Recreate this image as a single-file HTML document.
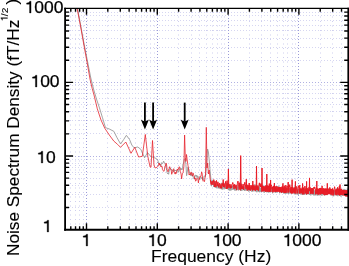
<!DOCTYPE html>
<html><head><meta charset="utf-8"><style>
html,body{margin:0;padding:0;background:#fff;}
body{width:349px;height:266px;position:relative;overflow:hidden;font-family:"Liberation Sans",sans-serif;color:#000;-webkit-text-stroke:0.25px #000;}
.t{position:absolute;font-size:16.5px;line-height:1;white-space:nowrap;will-change:transform;}
.c{transform:translateX(-50%) scaleX(1.06);}
.yt{position:absolute;font-size:16px;line-height:1;white-space:nowrap;will-change:transform;transform-origin:0 0;transform:rotate(-90deg) scaleX(1.076);}
.one{position:relative;color:transparent;-webkit-text-stroke:0;}
.one svg{position:absolute;left:0;top:0;width:0.556em;height:1.117em;overflow:visible;fill:#000;stroke:#000;stroke-width:20;}
sup{font-size:9.5px;vertical-align:0;position:relative;top:-11.5px;margin-left:-2px;}
.rp{font-size:17px;margin-left:2.6px;position:relative;top:-0.9px;}
</style></head><body>
<svg width="349" height="266" viewBox="0 0 349 266" style="position:absolute;left:0;top:0">
<defs><clipPath id="c"><rect x="65.1" y="8.35" width="283.1" height="221.4"/></clipPath></defs>
<path d="M70.5 12V228.8M75.5 12V228.8M79.5 12V228.8M83.5 12V228.8M107.5 12V228.8M120.5 12V228.8M129.5 12V228.8M135.5 12V228.8M141.5 12V228.8M146.5 12V228.8M150.5 12V228.8M154.5 12V228.8M178.5 12V228.8M191.5 12V228.8M199.5 12V228.8M206.5 12V228.8M212.5 12V228.8M217.5 12V228.8M221.5 12V228.8M224.5 12V228.8M249.5 12V228.8M261.5 12V228.8M270.5 12V228.8M277.5 12V228.8M283.5 12V228.8M287.5 12V228.8M292.5 12V228.8M295.5 12V228.8M320.5 12V228.8M332.5 12V228.8M341.5 12V228.8" stroke="#cfcfee" stroke-width="1" stroke-dasharray="1 3.5" fill="none"/>
<path d="M69 207.5H347.2M69 194.5H347.2M69 185.5H347.2M69 178.5H347.2M69 172.5H347.2M69 167.5H347.2M69 163.5H347.2M69 159.5H347.2M69 133.5H347.2M69 120.5H347.2M69 111.5H347.2M69 104.5H347.2M69 98.5H347.2M69 93.5H347.2M69 89.5H347.2M69 85.5H347.2M69 60.5H347.2M69 47.5H347.2M69 38.5H347.2M69 30.5H347.2M69 25.5H347.2M69 20.5H347.2M69 15.5H347.2M69 12.5H347.2" stroke="#d6d6f1" stroke-width="1" stroke-dasharray="1 2" fill="none"/>
<path d="M69 156.5H347.2M69 82.5H347.2" stroke="#b0b0e2" stroke-width="1" stroke-dasharray="1 2" fill="none"/>
<path d="M86.5 12V228.8M157.5 12V228.8M228.5 12V228.8M298.5 12V228.8" stroke="#9a9ad8" stroke-width="1" stroke-dasharray="1 2" fill="none"/>
<g clip-path="url(#c)">
<path d="M77.60 8.80 L84.30 45.00 L90.80 78.00 L93.80 90.00 L96.80 100.00 L99.50 108.00 L102.50 117.80 L105.50 127.60 L109.30 129.00 L113.80 131.30 L116.80 137.30 L120.60 144.00 L123.60 139.60 L126.40 135.30 L129.60 139.60 L131.80 145.00 L134.00 147.80 L137.80 147.00 L140.80 149.30 L144.60 157.80 L147.50 152.50 L150.60 156.30 L153.40 157.40 L156.30 158.50 L156.86 159.41 L157.42 160.16 L157.98 160.48 L158.54 163.68 L159.10 163.60 L159.55 162.92 L160.00 165.20 L160.50 164.78 L161.00 165.54 L161.50 162.67 L162.00 163.50 L162.53 163.31 L163.05 163.15 L163.57 161.07 L164.10 162.10 L164.60 162.60 L165.10 164.44 L165.60 164.70 L166.10 167.31 L166.60 170.20 L167.10 172.68 L167.60 173.80 L168.10 173.02 L168.60 174.30 L169.13 171.48 L169.67 169.07 L170.20 168.20 L170.65 168.54 L171.10 170.12 L171.55 169.45 L172.00 169.50 L172.50 170.82 L173.00 170.15 L173.50 171.74 L174.00 171.50 L174.50 169.93 L175.00 170.12 L175.50 170.90 L176.00 170.00 L176.57 171.25 L177.15 170.92 L177.73 170.49 L178.30 172.30 L178.80 170.58 L179.30 169.38 L179.80 168.57 L180.30 168.20 L180.87 169.73 L181.43 168.50 L182.00 170.00 L182.50 167.96 L183.00 163.60 L183.53 163.49 L184.05 159.76 L184.57 159.49 L185.10 158.60 L185.90 164.30 L186.60 175.70 L188.00 167.10 L188.47 169.00 L188.93 169.04 L189.40 172.90 L189.93 173.12 L190.45 175.60 L190.97 172.90 L191.50 175.00 L192.05 176.12 L192.60 174.92 L193.15 177.49 L193.70 177.90 L194.27 179.15 L194.85 176.00 L195.43 174.86 L196.00 176.50 L196.54 175.23 L197.08 177.50 L197.62 175.81 L198.16 176.50 L198.70 178.60 L199.27 178.19 L199.85 179.50 L200.43 177.08 L201.00 177.00 L201.50 177.34 L202.00 179.06 L202.50 177.60 L203.00 180.00 L203.58 178.90 L204.16 175.83 L204.74 176.18 L205.32 176.18 L205.90 172.90 L206.80 160.00 L207.60 149.00 L208.40 152.00 L209.20 160.00 L210.00 170.00 L211.00 180.00 L211.50 186.18 L212.28 180.19 L213.05 182.66 L213.74 186.90 L214.51 180.75 L215.26 187.74 L215.98 184.46 L216.78 188.26 L217.68 184.18 L218.39 188.37 L219.09 184.90 L219.89 188.66 L220.67 184.97 L221.35 189.31 L221.97 182.73 L222.71 189.55 L223.39 185.20 L224.19 189.30 L224.78 184.50 L225.58 188.90 L226.39 184.99 L226.99 183.06 L227.55 184.68 L228.37 190.15 L229.05 184.46 L229.69 190.56 L230.27 186.22 L230.86 190.57 L231.44 186.26 L232.01 189.94 L232.60 185.76 L233.24 189.66 L233.96 184.99 L234.58 190.40 L235.25 186.29 L235.86 190.64 L236.49 185.30 L237.15 189.93 L237.85 186.46 L238.36 190.44 L238.90 185.97 L239.49 184.05 L240.16 186.83 L240.69 190.82 L241.27 183.59 L241.85 190.90 L242.45 186.28 L243.12 189.88 L243.78 186.42 L244.39 190.91 L244.92 186.77 L245.58 190.50 L246.12 186.00 L246.69 190.41 L247.15 187.16 L247.77 190.93 L248.31 187.41 L248.83 191.64 L249.44 187.26 L250.00 190.23 L250.48 187.12 L251.08 190.39 L251.57 186.62 L252.00 191.93 L252.45 186.15 L252.89 190.37 L253.33 186.65 L253.87 191.43 L254.44 186.96 L254.90 184.29 L255.33 187.33 L255.85 191.48 L256.32 187.52 L256.85 192.25 L257.40 186.48 L257.81 191.33 L258.34 188.23 L258.85 192.07 L259.26 185.57 L259.71 192.24 L260.16 187.98 L260.64 191.62 L261.15 187.46 L261.61 191.99 L262.07 186.85 L262.82 184.86 L263.49 186.33 L264.16 192.79 L264.92 187.32 L265.52 185.47 L266.23 187.55 L266.81 192.35 L267.55 187.90 L268.32 192.60 L268.93 187.94 L269.57 192.29 L270.28 187.50 L271.11 192.08 L271.83 187.46 L272.58 193.26 L273.17 187.51 L273.77 186.87 L274.55 187.84 L275.28 192.91 L276.01 187.60 L276.81 192.63 L277.58 188.79 L278.18 186.09 L278.78 185.87 L279.56 193.23 L280.34 188.28 L281.12 193.07 L281.83 188.05 L282.63 192.84 L283.37 188.49 L283.99 193.78 L284.59 189.13 L285.43 193.64 L286.13 188.42 L286.84 193.70 L287.62 188.48 L288.35 194.06 L289.18 188.48 L289.88 193.60 L290.58 188.48 L291.17 193.55 L291.97 189.19 L292.69 187.09 L293.53 188.91 L294.13 194.10 L294.90 186.63 L295.54 194.39 L296.31 187.60 L297.01 194.54 L297.75 189.64 L298.36 194.73 L298.93 189.13 L299.68 193.89 L300.46 189.49 L301.29 194.59 L301.89 189.91 L302.59 195.03 L303.33 189.56 L304.00 194.83 L304.67 189.94 L305.23 194.39 L305.82 189.79 L306.64 194.99 L307.43 190.09 L308.16 194.38 L308.84 189.38 L309.43 194.92 L310.06 189.35 L310.81 195.42 L311.41 189.63 L312.18 194.68 L312.90 188.17 L313.55 195.30 L314.13 190.46 L314.81 195.44 L315.40 189.80 L316.12 195.35 L316.88 189.90 L317.66 195.61 L318.30 190.08 L319.08 195.46 L319.87 190.08 L320.44 195.20 L321.26 189.72 L321.88 195.78 L322.49 190.79 L323.22 194.85 L323.94 189.91 L324.57 195.44 L325.30 190.36 L325.90 195.08 L326.46 190.43 L327.26 195.11 L327.88 190.68 L328.52 188.87 L329.14 188.18 L329.76 188.52 L330.52 191.04 L331.17 195.68 L331.76 189.97 L332.53 188.93 L333.12 190.82 L333.70 196.27 L334.40 190.51 L334.97 195.26 L335.53 190.57 L336.33 195.32 L336.98 187.99 L337.81 196.20 L338.60 190.34 L339.30 195.72 L340.09 190.65 L340.93 196.60 L341.71 191.42 L342.52 195.98 L343.19 191.05 L344.01 188.95 L344.63 191.37 L345.21 189.54 L345.88 191.92 L346.69 196.34 L347.30 188.68 L348.12 196.79 L348.78 191.07" stroke="#9a9a9a" stroke-width="0.9" fill="none" stroke-linejoin="round"/>
<path d="M77.20 8.80 L80.50 26.00 L83.90 45.00 L87.20 63.00 L90.20 80.00 L92.20 88.50 L94.00 95.00 L97.30 108.80 L101.00 120.00 L104.80 128.30 L109.30 135.00 L113.80 141.10 L117.60 144.40 L120.50 147.30 L125.80 142.00 L131.00 153.30 L134.80 147.30 L138.60 157.00 L142.30 156.30 L145.30 134.50 L147.80 156.30 L150.10 167.00 L151.00 167.30 L152.50 140.50 L154.00 165.30 L155.10 168.00 L157.40 167.00 L157.82 166.44 L158.25 165.87 L158.68 165.06 L159.10 163.00 L159.55 165.14 L160.00 164.10 L160.50 165.66 L161.00 167.02 L161.50 166.20 L162.00 166.25 L162.50 169.70 L163.05 170.38 L163.60 171.30 L164.10 171.03 L164.60 168.10 L165.10 165.70 L165.60 165.84 L166.10 163.10 L166.60 165.01 L167.10 169.70 L167.60 170.64 L168.10 171.80 L168.63 169.19 L169.17 168.56 L169.70 166.70 L170.20 168.22 L170.70 169.20 L171.20 170.00 L171.70 174.30 L172.20 172.28 L172.70 172.30 L173.20 169.71 L173.70 168.70 L174.20 172.25 L174.70 172.80 L175.07 174.09 L175.43 172.24 L175.80 173.80 L176.30 173.37 L176.80 170.80 L177.30 168.97 L177.80 170.16 L178.30 169.20 L178.80 167.52 L179.30 166.74 L179.80 168.20 L180.30 171.84 L180.80 172.80 L181.20 174.80 L181.60 178.90 L182.10 175.08 L182.60 173.30 L183.03 172.67 L183.47 169.91 L183.90 166.20 L184.60 135.00 L185.30 157.50 L185.90 161.40 L186.50 154.50 L187.20 160.00 L188.00 165.70 L188.35 167.53 L188.70 171.40 L189.10 174.84 L189.50 173.99 L189.90 175.00 L190.40 174.41 L190.90 172.10 L191.40 172.12 L191.90 175.00 L192.45 176.09 L193.00 172.90 L193.55 175.23 L194.10 175.70 L194.60 179.07 L195.10 177.90 L195.60 181.21 L196.10 180.70 L196.50 178.79 L196.90 178.16 L197.30 177.90 L197.85 178.78 L198.40 182.90 L198.90 179.38 L199.40 179.30 L199.90 176.22 L200.40 176.40 L200.90 176.40 L201.25 174.60 L201.60 171.80 L202.15 173.49 L202.70 180.00 L203.20 181.21 L203.70 180.70 L204.10 180.36 L204.50 181.60 L205.00 177.88 L205.50 176.00 L206.30 127.30 L207.00 168.00 L207.70 163.00 L208.40 174.00 L209.20 170.00 L210.00 178.00 L210.40 180.20 L211.20 184.54" stroke="#e6232d" stroke-width="0.8" fill="none" stroke-linejoin="round"/>
<path d="M210.40 180.20 L211.20 184.54 L212.13 180.98 L212.95 185.00 L213.78 179.58 L214.43 187.00 L215.07 181.15 L215.89 187.09 L216.50 180.45 L217.19 186.14 L217.93 181.85 L218.72 187.33 L219.45 183.22 L220.34 188.29 L221.02 183.56 L221.62 188.35 L222.45 183.46 L222.80 185.71 L223.20 179.50 L223.60 185.71 L223.27 187.08 L224.10 183.54 L224.78 187.47 L225.56 181.45 L226.39 189.01 L227.01 180.61 L227.61 188.69 L228.21 183.38 L228.00 186.25 L228.40 169.00 L228.80 186.25 L228.93 187.89 L229.53 184.42 L230.28 188.37 L230.87 184.27 L231.57 188.05 L232.15 184.64 L232.75 182.47 L233.42 184.76 L234.03 188.95 L234.67 184.18 L235.22 188.42 L235.93 184.93 L236.62 190.13 L237.35 183.75 L237.95 181.08 L238.49 184.19 L239.18 189.62 L239.70 182.70 L240.32 190.22 L240.30 187.15 L240.70 155.60 L241.10 187.15 L240.86 183.93 L241.34 189.09 L241.82 185.50 L242.42 188.88 L243.09 183.96 L243.71 189.88 L244.18 185.98 L244.79 182.24 L245.35 184.62 L246.02 188.99 L246.00 187.51 L246.30 179.20 L246.60 187.51 L246.63 184.37 L247.22 190.52 L247.74 184.88 L248.36 189.83 L248.98 185.19 L248.90 187.70 L249.20 183.00 L249.50 187.70 L249.49 190.23 L249.93 185.12 L250.54 190.59 L251.11 185.32 L251.70 189.36 L252.12 185.35 L252.57 190.65 L252.50 187.93 L252.80 181.00 L253.10 187.93 L253.11 184.78 L253.51 189.91 L253.95 186.34 L254.49 190.25 L254.95 185.41 L255.43 191.04 L255.99 186.05 L256.44 189.77 L256.20 188.17 L256.50 166.00 L256.80 188.17 L256.99 185.19 L257.55 190.12 L258.01 186.40 L258.47 190.87 L258.90 185.34 L259.36 182.83 L259.74 185.66 L260.16 184.35 L260.61 187.07 L261.01 183.42 L261.45 185.92 L261.95 191.73 L261.70 188.52 L262.00 168.00 L262.30 188.52 L262.34 185.93 L262.68 191.16 L263.05 186.24 L263.50 191.28 L263.96 186.14 L264.45 190.76 L264.91 186.54 L265.35 191.90 L265.78 185.61 L266.28 191.37 L266.65 185.87 L266.50 188.81 L266.80 174.00 L267.10 188.81 L267.09 191.75 L267.58 185.58 L268.00 191.90 L268.49 185.80 L268.84 191.49 L269.31 183.56 L269.66 192.02 L270.05 185.98 L270.41 191.69 L270.35 189.04 L270.60 180.00 L270.85 189.04 L270.89 186.16 L271.30 184.84 L271.73 186.74 L272.17 191.80 L272.60 186.76 L273.08 192.35 L273.56 185.96 L273.99 191.48 L274.15 189.26 L274.40 183.20 L274.65 189.26 L274.41 183.55 L274.83 191.80 L275.27 186.69 L275.61 192.03 L276.11 186.17 L276.52 191.54 L277.00 186.25 L277.39 191.68 L277.88 187.32 L278.22 191.73 L278.67 187.12 L279.11 191.67 L279.47 186.91 L279.84 192.27 L280.23 187.09 L280.60 191.89 L281.04 186.98 L281.48 192.80 L281.94 186.67 L282.33 192.14 L282.70 186.46 L282.65 189.77 L282.90 183.40 L283.15 189.77 L283.06 192.08 L283.44 187.70 L283.85 192.85 L284.25 185.66 L284.70 193.07 L285.06 187.26 L285.48 192.81 L285.82 185.06 L286.25 192.71 L286.61 187.75 L287.12 186.11 L287.61 187.47 L288.00 192.68 L287.95 190.09 L288.20 182.00 L288.45 190.09 L288.41 184.92 L288.89 192.35 L289.35 187.65 L289.71 184.62 L290.18 187.30 L290.63 192.75 L291.05 186.99 L291.43 193.47 L291.89 187.26 L291.85 190.33 L292.10 179.70 L292.35 190.33 L292.38 193.48 L292.84 187.38 L293.30 192.47 L293.72 188.43 L294.16 193.25 L294.65 187.62 L295.10 193.24 L295.15 190.52 L295.40 181.40 L295.65 190.52 L295.50 187.23 L295.96 193.54 L296.30 187.79 L296.68 186.42 L297.07 188.51 L297.56 193.36 L298.06 187.95 L298.50 185.73 L298.97 188.70 L299.33 193.36 L299.75 185.12 L300.16 193.48 L300.55 188.46 L300.98 193.19 L301.37 188.84 L301.71 193.06 L302.11 187.68 L302.46 194.19 L302.35 190.89 L302.60 183.40 L302.85 190.89 L302.81 187.69 L303.22 194.21 L303.65 187.66 L304.06 194.25 L304.50 188.79 L304.91 186.04 L305.27 188.37 L305.68 193.36 L306.09 187.93 L306.59 194.33 L306.35 191.02 L306.60 181.40 L306.85 191.02 L306.97 188.85 L307.44 193.92 L307.82 188.10 L308.25 193.97 L308.62 188.71 L309.11 187.07 L309.49 188.49 L309.25 191.12 L309.50 177.90 L309.75 191.12 L309.84 187.03 L310.29 188.34 L310.69 193.86 L311.09 188.10 L311.44 193.40 L311.88 188.08 L312.28 193.63 L312.68 188.26 L313.07 194.06 L313.56 188.59 L313.92 187.12 L314.35 188.53 L314.73 186.86 L315.18 189.11 L315.64 194.37 L316.00 188.75 L316.39 193.60 L316.55 191.36 L316.80 181.00 L317.05 191.36 L316.83 187.99 L317.32 194.08 L317.70 188.85 L318.20 194.76 L318.59 188.80 L319.00 194.09 L319.43 188.22 L319.90 194.37 L320.37 188.12 L320.71 194.34 L321.14 188.02 L321.61 193.74 L322.08 185.89 L322.56 193.81 L322.92 188.38 L323.30 194.04 L323.72 188.37 L324.12 195.14 L324.54 188.72 L324.99 195.11 L325.47 188.55 L325.94 195.03 L326.43 188.62 L326.89 195.03 L327.30 189.35 L327.05 191.73 L327.30 183.30 L327.55 191.73 L327.80 194.46 L328.17 188.97 L328.67 194.04 L329.02 188.67 L329.39 194.07 L329.82 187.40 L330.19 194.33 L330.65 188.79 L331.01 194.46 L331.48 189.22 L331.95 194.79 L332.44 188.37 L332.86 195.54 L333.24 189.66 L333.71 194.73 L334.13 189.35 L334.58 186.69 L334.98 188.60 L335.41 194.49 L335.80 189.46 L336.23 195.28 L336.61 189.11 L337.07 194.42 L337.55 187.32 L338.01 194.65 L338.42 188.61 L338.90 195.04 L339.31 186.18 L339.68 195.48 L339.75 192.43 L340.00 184.50 L340.25 192.43 L340.04 188.91 L340.43 194.85 L340.84 189.15 L341.29 194.97 L341.71 188.83 L342.15 194.91 L342.61 190.01 L343.02 194.99 L343.49 190.12 L343.88 195.63 L344.26 189.98 L344.71 195.53 L345.17 190.06 L345.60 196.33 L346.08 190.49 L346.43 196.34 L346.79 190.07 L347.23 195.51 L347.59 190.56 L347.94 196.87 L348.36 189.80 L348.84 196.13" stroke="#e81c26" stroke-width="1.0" fill="none" stroke-linejoin="round"/>
</g>
<path d="M144.9 102.6V121.5" stroke="#000" stroke-width="1.8" fill="none"/><path d="M144.9 129.5L140.9 119.5Q144.9 123.0 148.9 119.5Z" fill="#000"/><path d="M153.1 102.6V121.5" stroke="#000" stroke-width="1.8" fill="none"/><path d="M153.1 129.5L149.1 119.5Q153.1 123.0 157.1 119.5Z" fill="#000"/><path d="M184.7 102.6V121.5" stroke="#000" stroke-width="1.8" fill="none"/><path d="M184.7 129.5L180.7 119.5Q184.7 123.0 188.7 119.5Z" fill="#000"/>
<path d="M70.79 229.75v-3.5M70.79 8.35v3.5M75.53 229.75v-3.5M75.53 8.35v3.5M79.64 229.75v-3.5M79.64 8.35v3.5M83.26 229.75v-3.5M83.26 8.35v3.5M86.50 229.75v-6.5M86.50 8.35v6.5M107.81 229.75v-3.5M107.81 8.35v3.5M120.28 229.75v-3.5M120.28 8.35v3.5M129.13 229.75v-3.5M129.13 8.35v3.5M135.99 229.75v-3.5M135.99 8.35v3.5M141.59 229.75v-3.5M141.59 8.35v3.5M146.33 229.75v-3.5M146.33 8.35v3.5M150.44 229.75v-3.5M150.44 8.35v3.5M154.06 229.75v-3.5M154.06 8.35v3.5M157.30 229.75v-6.5M157.30 8.35v6.5M178.61 229.75v-3.5M178.61 8.35v3.5M191.08 229.75v-3.5M191.08 8.35v3.5M199.93 229.75v-3.5M199.93 8.35v3.5M206.79 229.75v-3.5M206.79 8.35v3.5M212.39 229.75v-3.5M212.39 8.35v3.5M217.13 229.75v-3.5M217.13 8.35v3.5M221.24 229.75v-3.5M221.24 8.35v3.5M224.86 229.75v-3.5M224.86 8.35v3.5M228.10 229.75v-6.5M228.10 8.35v6.5M249.41 229.75v-3.5M249.41 8.35v3.5M261.88 229.75v-3.5M261.88 8.35v3.5M270.73 229.75v-3.5M270.73 8.35v3.5M277.59 229.75v-3.5M277.59 8.35v3.5M283.19 229.75v-3.5M283.19 8.35v3.5M287.93 229.75v-3.5M287.93 8.35v3.5M292.04 229.75v-3.5M292.04 8.35v3.5M295.66 229.75v-3.5M295.66 8.35v3.5M298.90 229.75v-6.5M298.90 8.35v6.5M320.21 229.75v-3.5M320.21 8.35v3.5M332.68 229.75v-3.5M332.68 8.35v3.5M341.53 229.75v-3.5M341.53 8.35v3.5M65.10 207.44h4M348.20 207.44h-4M65.10 194.48h4M348.20 194.48h-4M65.10 185.29h4M348.20 185.29h-4M65.10 178.16h4M348.20 178.16h-4M65.10 172.33h4M348.20 172.33h-4M65.10 167.40h4M348.20 167.40h-4M65.10 163.13h4M348.20 163.13h-4M65.10 159.37h4M348.20 159.37h-4M65.10 156.00h8M348.20 156.00h-8M65.10 133.84h4M348.20 133.84h-4M65.10 120.88h4M348.20 120.88h-4M65.10 111.69h4M348.20 111.69h-4M65.10 104.56h4M348.20 104.56h-4M65.10 98.73h4M348.20 98.73h-4M65.10 93.80h4M348.20 93.80h-4M65.10 89.53h4M348.20 89.53h-4M65.10 85.77h4M348.20 85.77h-4M65.10 82.40h8M348.20 82.40h-8M65.10 60.24h4M348.20 60.24h-4M65.10 47.28h4M348.20 47.28h-4M65.10 38.09h4M348.20 38.09h-4M65.10 30.96h4M348.20 30.96h-4M65.10 25.13h4M348.20 25.13h-4M65.10 20.20h4M348.20 20.20h-4M65.10 15.93h4M348.20 15.93h-4M65.10 12.17h4M348.20 12.17h-4" stroke="#000" stroke-width="1.4" fill="none"/>
<path d="M65.1 7.699999999999999V230.65" stroke="#000" stroke-width="1.8" fill="none"/>
<path d="M64.19999999999999 229.75H349.0" stroke="#000" stroke-width="1.8" fill="none"/>
<path d="M64.19999999999999 8.35H349.0" stroke="#000" stroke-width="1.3" fill="none"/>
<path d="M348.2 7.699999999999999V230.65" stroke="#000" stroke-width="1.6" fill="none"/>
</svg>
<div class="t c" style="left:43.6px;top:-1px"><span class="one">1<svg viewBox="0 -905 556 1117"><path d="M372 0L372 -709L298 -709C282 -645 236 -612 118 -600L118 -531L287 -531L287 0Z"/></svg></span>000</div>
<div class="t c" style="left:45.1px;top:73px"><span class="one">1<svg viewBox="0 -905 556 1117"><path d="M372 0L372 -709L298 -709C282 -645 236 -612 118 -600L118 -531L287 -531L287 0Z"/></svg></span>00</div>
<div class="t c" style="left:46px;top:149px"><span class="one">1<svg viewBox="0 -905 556 1117"><path d="M372 0L372 -709L298 -709C282 -645 236 -612 118 -600L118 -531L287 -531L287 0Z"/></svg></span>0</div>
<div class="t c" style="left:46.8px;top:218px"><span class="one">1<svg viewBox="0 -905 556 1117"><path d="M372 0L372 -709L298 -709C282 -645 236 -612 118 -600L118 -531L287 -531L287 0Z"/></svg></span></div>
<div class="t c" style="left:85.9px;top:231.5px"><span class="one">1<svg viewBox="0 -905 556 1117"><path d="M372 0L372 -709L298 -709C282 -645 236 -612 118 -600L118 -531L287 -531L287 0Z"/></svg></span></div>
<div class="t c" style="left:156.9px;top:231.5px"><span class="one">1<svg viewBox="0 -905 556 1117"><path d="M372 0L372 -709L298 -709C282 -645 236 -612 118 -600L118 -531L287 -531L287 0Z"/></svg></span>0</div>
<div class="t c" style="left:226.8px;top:231.5px"><span class="one">1<svg viewBox="0 -905 556 1117"><path d="M372 0L372 -709L298 -709C282 -645 236 -612 118 -600L118 -531L287 -531L287 0Z"/></svg></span>00</div>
<div class="t c" style="left:302.2px;top:231.5px"><span class="one">1<svg viewBox="0 -905 556 1117"><path d="M372 0L372 -709L298 -709C282 -645 236 -612 118 -600L118 -531L287 -531L287 0Z"/></svg></span>000</div>
<div class="t" style="left:150.5px;top:249.2px;font-size:16.8px;transform-origin:0 0;transform:scaleX(1.04);-webkit-text-stroke:0.1px #000">Frequency (Hz)</div>
<div class="yt" style="left:5px;top:256px;-webkit-text-stroke:0.1px #000">Noise Spectrum Density (fT/Hz<sup><span class="one">1<svg viewBox="0 -905 556 1117"><path d="M372 0L372 -709L298 -709C282 -645 236 -612 118 -600L118 -531L287 -531L287 0Z"/></svg></span>/2</sup><span class="rp">)</span></div>
</body></html>
